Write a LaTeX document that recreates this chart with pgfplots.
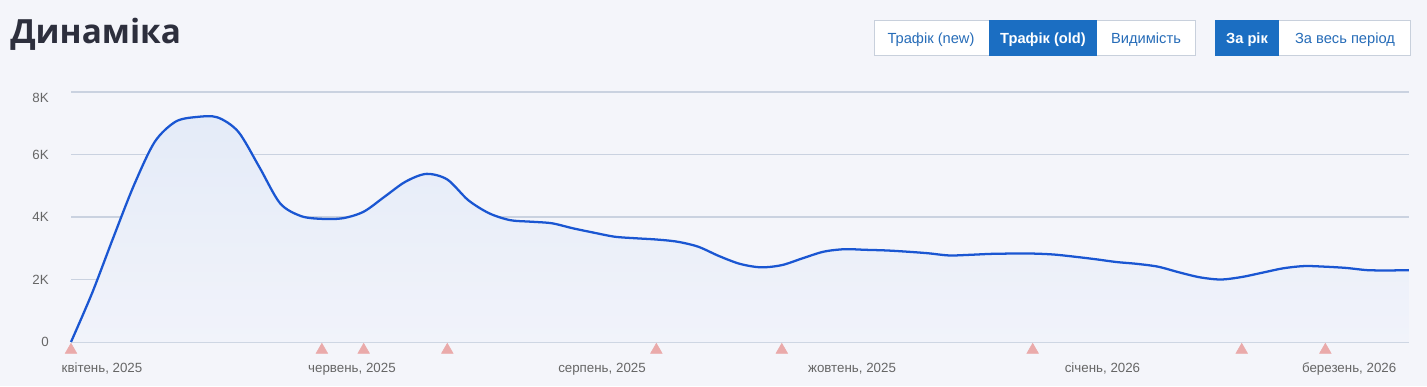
\documentclass[border=0pt]{standalone}
\usepackage{fontspec}
\setmainfont{Liberation Sans}
\newfontfamily\titlefont{Open Sans}
\usepackage{pgfplots}
\usepackage{pgfplotstable}
\pgfplotsset{compat=1.18}
\definecolor{bg}{RGB}{244,245,250}
\definecolor{gridc}{RGB}{202,210,224}
\definecolor{linec}{RGB}{26,86,210}
\definecolor{tri}{RGB}{234,170,170}
\definecolor{lab}{RGB}{102,102,102}
\definecolor{btn}{RGB}{27,110,194}
\definecolor{btntext}{RGB}{38,108,184}
\definecolor{btnborder}{RGB}{200,208,220}
\definecolor{titlec}{RGB}{45,47,61}
\definecolor{filltop}{RGB}{228,235,248}
\definecolor{fillbot}{RGB}{241,243,250}

\pgfplotstableread{
x y
0 0
0.5 1550
1 3300
1.5 5000
2 6400
2.5 7050
3 7200
3.5 7190
4 6730
4.5 5610
5 4440
5.5 4030
6 3940
6.5 3960
7 4170
7.5 4650
8 5130
8.5 5380
9 5200
9.5 4540
10 4120
10.5 3900
11 3850
11.5 3800
12 3640
12.5 3500
13 3370
13.5 3320
14 3280
14.5 3210
15 3050
15.5 2750
16 2500
16.5 2390
17 2460
17.5 2680
18 2890
18.5 2970
19 2950
19.5 2930
20 2890
20.5 2840
21 2770
21.5 2790
22 2820
22.5 2830
23 2830
23.5 2800
24 2730
24.5 2650
25 2560
25.5 2500
26 2410
26.5 2230
27 2070
27.5 2000
28 2080
28.5 2220
29 2360
29.5 2430
30 2410
30.5 2370
31 2300
31.5 2290
32 2300
}\traffic

\pgfplotstableread{
x y
0 -256
6 -256
7 -256
9 -256
14 -256
17 -256
23 -256
28 -256
30 -256
}\events

\begin{document}
\begin{tikzpicture}
\begin{scope}[x=0.75pt,y=-0.75pt]
\fill[bg] (0,0) rectangle (1427,386);
\coordinate (A) at (71,342);
\node[anchor=base west, inner sep=0pt, font=\titlefont\bfseries\fontsize{25}{28}\selectfont, text=titlec] at (10,43) {Динаміка};
% button group 1
\draw[btnborder, fill=white, line width=0.75pt] (874.5,20.5) rectangle (1195.5,55.5);
\fill[btn] (989,20) rectangle (1097,56);
\node[anchor=base, inner sep=0pt, font=\fontsize{11}{13}\selectfont, text=btntext] at (931,43) {Трафік (new)};
\node[anchor=base, inner sep=0pt, font=\bfseries\fontsize{11}{13}\selectfont, text=white] at (1043,43) {Трафік (old)};
\node[anchor=base, inner sep=0pt, font=\fontsize{11}{13}\selectfont, text=btntext] at (1146,43) {Видимість};
% button group 2
\draw[btnborder, fill=white, line width=0.75pt] (1215,20.5) rectangle (1410,55.5);
\fill[btn] (1214.5,20) rectangle (1279,56);
\node[anchor=base, inner sep=0pt, font=\bfseries\fontsize{11}{13}\selectfont, text=white] at (1247,43) {За рік};
\node[anchor=base, inner sep=0pt, font=\fontsize{11}{13}\selectfont, text=btntext] at (1345,43) {За весь період};
\end{scope}

\begin{axis}[
  at={(A)}, anchor=south west,
  scale only axis, width=1003.5pt, height=187.5pt,
  xmin=0, xmax=32, ymin=0, ymax=8000,
  axis line style={draw=none},
  ymajorgrids, grid style={gridc, line width=0.9pt},
  ytick={0,2000,4000,6000,8000},
  yticklabels={0,2K,4K,6K,\raisebox{-4.5pt}{8K}},
  xtick={0.742,6.72,12.70,18.68,24.67,30.57},
  xticklabels={{квітень, 2025},{червень, 2025},{серпень, 2025},{жовтень, 2025},{січень, 2026},{березень, 2026}},
  major tick length=0pt,
  tick label style={font=\fontsize{10}{12}\selectfont, text=lab},
  yticklabel style={anchor=base east, inner sep=0pt, xshift=-16.5pt, yshift=-3.5pt},
  xticklabel style={anchor=base, inner sep=0pt, yshift=-22.5pt},
  scaled y ticks=false,
  clip=false,
]
\addplot[draw=none, top color=filltop, bottom color=fillbot, smooth, tension=0.5] table[x=x,y=y] {\traffic} \closedcycle;
\addplot[linec, line width=1.7pt, smooth, tension=0.5] table[x=x,y=y] {\traffic};
\addplot[tri, only marks, mark=triangle*, mark size=5pt, mark options={draw=tri, fill=tri}] table[x=x,y=y] {\events};
\end{axis}
\end{tikzpicture}
\end{document}
